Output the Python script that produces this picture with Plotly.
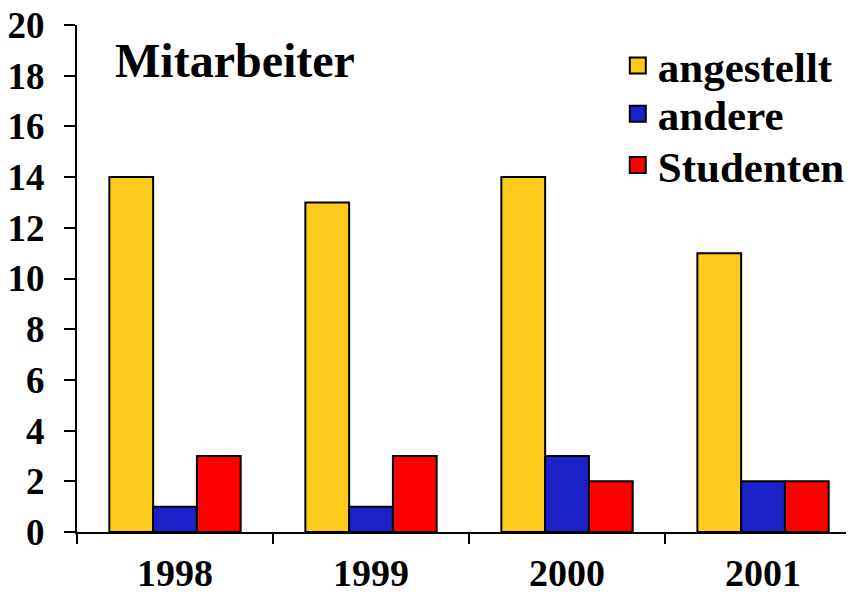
import plotly.graph_objects as go

years = ['1998', '1999', '2000', '2001']
angestellt = [14, 13, 14, 11]
andere = [1, 1, 3, 2]
studenten = [3, 3, 2, 2]

serif = "Liberation Serif, Times New Roman, serif"

series = [('angestellt', angestellt, '#FDCB1B', 'legend', 0.92),
          ('andere', andere, '#1A22C8', 'legend2', 0.825),
          ('Studenten', studenten, '#FF0000', 'legend3', 0.724)]

fig = go.Figure()
for name, vals, col, leg, ly in series:
    fig.add_trace(go.Bar(x=years, y=vals, name=name, showlegend=False,
                         marker=dict(color=col, line=dict(color='black', width=2))))
# legend-only entries with bigger square symbols
for name, vals, col, leg, ly in series:
    fig.add_trace(go.Scatter(x=[None], y=[None], mode="markers", name=name, legend=leg,
                             marker=dict(symbol="square", size=16, color=col,
                                         line=dict(color="black", width=2))))

fig.add_annotation(text="Mitarbeiter", xref="paper", yref="paper",
                   x=0.046, y=0.93, xanchor="left", yanchor="middle",
                   showarrow=False, font=dict(size=48, family=serif, color="black", weight="bold"))

legfont = dict(size=43, family=serif, weight="bold", color="black")
legends = {}
for name, vals, col, leg, ly in series:
    legends[leg] = dict(x=0.696, y=ly, xanchor="left", yanchor="middle",
                        font=legfont, bgcolor="rgba(0,0,0,0)", itemwidth=30)

# page body has an 8px margin, so the figure is sized to fill the rest of the window
fig.update_layout(
    width=846, height=586,
    margin=dict(l=69, r=0, t=17, b=62),
    plot_bgcolor="white", paper_bgcolor="white",
    font=dict(family=serif, color="black", weight="bold"),
    barmode="group", bargap=0.33, bargroupgap=0,
    showlegend=True,
    **legends,
)
fig.update_xaxes(range=[-0.5, 3.464], showline=True, linecolor="black", linewidth=2,
                 ticks="outside", tickson="boundaries", ticklen=10, tickwidth=2,
                 tickcolor="black", tickfont=dict(size=38), showgrid=False,
                 ticklabelstandoff=6, automargin=False, ticklabeloverflow="allow")
fig.update_yaxes(range=[0, 20], dtick=2, showline=True, linecolor="black", linewidth=2,
                 ticks="outside", ticklen=11, tickwidth=2, tickcolor="black",
                 tickfont=dict(size=37), showgrid=False, zeroline=False,
                 ticklabelstandoff=12, automargin=False, ticklabeloverflow="allow")

fig.write_html("out.html")
